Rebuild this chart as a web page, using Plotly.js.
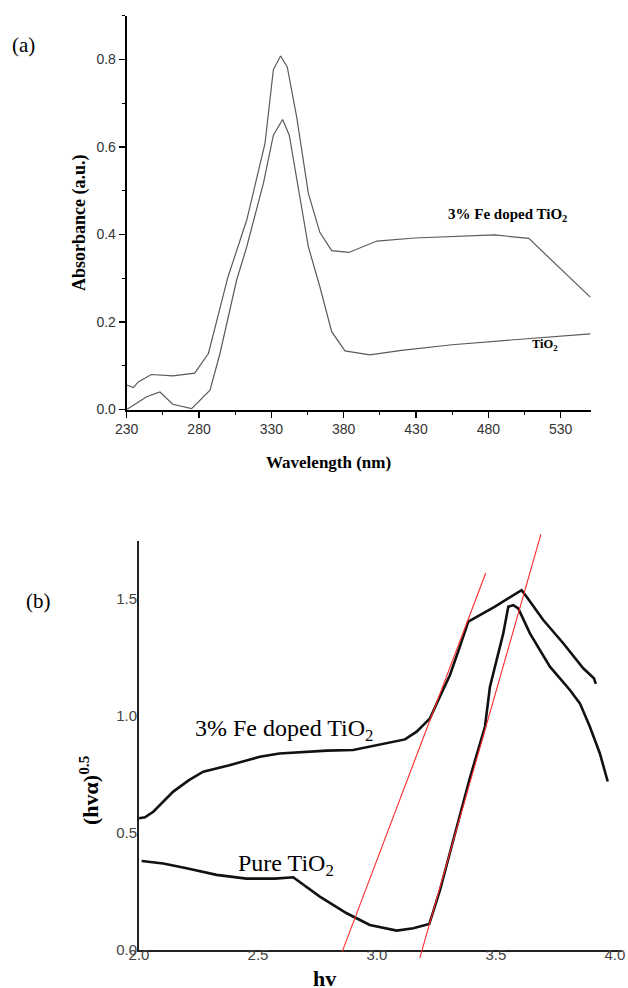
<!DOCTYPE html>
<html>
<head>
<meta charset="utf-8">
<script src="https://cdn.plot.ly/plotly-3.0.1.min.js"></script>
<style>
  html, body { margin: 0; padding: 0; background: #fff; }
  #chart { width: 628px; height: 988px; }
</style>
</head>
<body>
<div id="chart"></div>
<script>
// (a) UV-Vis absorbance spectra
const wlFe  = [230, 234.6, 238, 247, 262, 277, 286.5, 300, 313, 325.6, 331.4, 336.4, 341, 347.5, 355.6, 363.5, 371.7, 383.5, 403, 429, 484.5, 508, 550.5];
const absFe = [0.056, 0.050, 0.063, 0.080, 0.077, 0.083, 0.128, 0.303, 0.433, 0.608, 0.777, 0.808, 0.783, 0.669, 0.494, 0.405, 0.363, 0.359, 0.385, 0.392, 0.399, 0.391, 0.257];
const wlTi  = [230, 234.6, 243.8, 253, 261.8, 274.9, 287.6, 294.5, 306, 313, 324.5, 331.4, 337.8, 342.4, 348.7, 355.6, 363.6, 371.7, 380.9, 398, 420, 455, 500, 550.5];
const absTi = [0.0, 0.010, 0.029, 0.040, 0.012, 0.002, 0.044, 0.128, 0.296, 0.372, 0.517, 0.627, 0.663, 0.627, 0.501, 0.372, 0.280, 0.178, 0.134, 0.125, 0.135, 0.148, 0.160, 0.173];

// (b) Tauc plot, (h·v·α)^0.5 against photon energy
const hvFe = [2.0, 2.025, 2.06, 2.095, 2.144, 2.21, 2.27, 2.38, 2.508, 2.59, 2.69, 2.79, 2.90, 2.97, 3.04, 3.118, 3.167, 3.223, 3.265, 3.307, 3.346, 3.384, 3.496, 3.608, 3.629, 3.699, 3.783, 3.867, 3.912, 3.92];
const tauFe = [0.563, 0.567, 0.591, 0.627, 0.677, 0.726, 0.762, 0.79, 0.826, 0.84, 0.847, 0.852, 0.855, 0.869, 0.883, 0.90, 0.933, 0.99, 1.083, 1.175, 1.289, 1.403, 1.467, 1.538, 1.51, 1.41, 1.311, 1.204, 1.161, 1.137];
const hvTi = [2.011, 2.102, 2.20, 2.326, 2.452, 2.571, 2.648, 2.76, 2.873, 2.97, 3.083, 3.153, 3.22, 3.265, 3.321, 3.39, 3.454, 3.475, 3.503, 3.531, 3.552, 3.573, 3.594, 3.643, 3.727, 3.811, 3.853, 3.895, 3.937, 3.97];
const tauTi = [0.380, 0.370, 0.349, 0.321, 0.305, 0.305, 0.311, 0.228, 0.157, 0.107, 0.083, 0.093, 0.111, 0.256, 0.470, 0.733, 0.954, 1.125, 1.239, 1.353, 1.467, 1.474, 1.46, 1.353, 1.211, 1.111, 1.054, 0.954, 0.84, 0.72];

// Band-edge tangents (end points)
const tangentFeX = [2.854, 3.457];
const tangentFeY = [-0.007, 1.61];
const tangentTiX = [3.18, 3.689];
const tangentTiY = [-0.035, 1.776];

// Tick labels
const ticksA_x = [230, 280, 330, 380, 430, 480, 530];
const ticksA_y = [0.0, 0.2, 0.4, 0.6, 0.8];
const ticksB_x = [2.0, 2.5, 3.0, 3.5, 4.0];
const ticksB_y = [0.0, 0.5, 1.0, 1.5];

const W = 628, H = 988;
const serif = 'Liberation Serif, Times New Roman, serif';
const sans = 'Liberation Sans, Arial, sans-serif';

// panel geometry (paper fractions)
const xDomA = [126.7 / W, 591 / W];
const yDomA = [1 - 409.5 / H, 1 - 15.75 / H];
const xDomB = [139 / W, 622 / W];
const yDomB = [1 - 950 / H, 1 - 540.5 / H];
const xRangeB = [2.0, 4.03];
const yRangeB = [0, 1.75];

// tangents live on an invisible overlay sharing panel (b)'s scale,
// padded so the red lines may run a little past the axes
const padPx = 10;
const pxPerUnitB = (yDomB[1] - yDomB[0]) * H / (yRangeB[1] - yRangeB[0]);
const yDomT = [yDomB[0] - padPx / H, yDomB[1] + padPx / H];
const yRangeT = [yRangeB[0] - padPx / pxPerUnitB, yRangeB[1] + padPx / pxPerUnitB];

const grey = '#5a5a5a';
const traces = [
  { x: wlFe, y: absFe, xaxis: 'x', yaxis: 'y', mode: 'lines', line: { color: grey, width: 1.2 }, name: '3% Fe doped TiO2' },
  { x: wlTi, y: absTi, xaxis: 'x', yaxis: 'y', mode: 'lines', line: { color: grey, width: 1.2 }, name: 'TiO2' },
  { x: hvFe, y: tauFe, xaxis: 'x2', yaxis: 'y2', mode: 'lines', line: { color: '#111', width: 2.6 }, name: '3% Fe doped TiO2' },
  { x: hvTi, y: tauTi, xaxis: 'x2', yaxis: 'y2', mode: 'lines', line: { color: '#111', width: 2.6 }, name: 'Pure TiO2' },
  { x: tangentFeX, y: tangentFeY, xaxis: 'x3', yaxis: 'y3', mode: 'lines', line: { color: '#ff2a2a', width: 1.1 }, name: 'tangent' },
  { x: tangentTiX, y: tangentTiY, xaxis: 'x3', yaxis: 'y3', mode: 'lines', line: { color: '#ff2a2a', width: 1.1 }, name: 'tangent' }
];

const tickFontA = { family: sans, size: 14, color: '#333' };
const tickFontB = { family: sans, size: 15, color: '#444' };

function ann(text, px, py, font, extra) {
  return Object.assign({ text: text, x: px / W, y: 1 - py / H, xref: 'paper', yref: 'paper',
    showarrow: false, xanchor: 'center', yanchor: 'middle', font: font }, extra || {});
}

const layout = {
  width: W, height: H,
  margin: { l: 0, r: 0, t: 0, b: 0 },
  paper_bgcolor: '#fff', plot_bgcolor: 'rgba(0,0,0,0)',
  showlegend: false,
  xaxis: {
    domain: xDomA, range: [230, 551], anchor: 'y',
    tickmode: 'array', tickvals: ticksA_x, ticktext: ticksA_x.map(String),
    ticks: 'outside', ticklen: 6, tickwidth: 1.5, tickcolor: '#000',
    minor: { dtick: 25, tick0: 230, ticks: 'outside', ticklen: 3, tickwidth: 1.2, tickcolor: '#000', showgrid: false },
    showline: true, linewidth: 2, linecolor: '#000',
    showgrid: false, zeroline: false, tickfont: tickFontA, fixedrange: true
  },
  yaxis: {
    domain: yDomA, range: [0, 0.9], anchor: 'x',
    tickmode: 'array', tickvals: ticksA_y, ticktext: ticksA_y.map(v => v.toFixed(1)),
    ticks: 'outside', ticklen: 6, tickwidth: 1.5, tickcolor: '#000',
    minor: { dtick: 0.1, tick0: 0, ticks: 'outside', ticklen: 3, tickwidth: 1.2, tickcolor: '#000', showgrid: false },
    showline: true, linewidth: 2, linecolor: '#000',
    showgrid: false, zeroline: false, tickfont: tickFontA, fixedrange: true
  },
  xaxis2: {
    domain: xDomB, range: xRangeB, anchor: 'y2',
    tickmode: 'array', tickvals: ticksB_x, ticktext: ticksB_x.map(v => v.toFixed(1)),
    ticks: '', ticklabelstandoff: -10,
    showline: true, linewidth: 2, linecolor: '#222',
    showgrid: false, zeroline: false, tickfont: tickFontB, fixedrange: true
  },
  yaxis2: {
    domain: yDomB, range: yRangeB, anchor: 'x2',
    tickmode: 'array', tickvals: ticksB_y, ticktext: ticksB_y.map(v => v.toFixed(1)),
    ticks: '', ticklabelstandoff: -3,
    showline: true, linewidth: 2, linecolor: '#222',
    showgrid: false, zeroline: false, tickfont: tickFontB, fixedrange: true
  },
  xaxis3: { domain: xDomB, range: xRangeB, anchor: 'y3', visible: false, fixedrange: true },
  yaxis3: { domain: yDomT, range: yRangeT, anchor: 'x3', visible: false, fixedrange: true },
  annotations: [
    ann('(a)', 23, 45, { family: serif, size: 21, color: '#000' }),
    ann('<b>Absorbance (a.u.)</b>', 79, 223, { family: serif, size: 18, color: '#000' }, { textangle: -90 }),
    ann('<b>Wavelength (nm)</b>', 328, 462, { family: serif, size: 17, color: '#000' }),
    ann('<b>3% Fe doped TiO<sub>2</sub></b>', 507, 215, { family: serif, size: 15, color: '#000' }),
    ann('<b>TiO<sub>2</sub></b>', 545, 345, { family: serif, size: 12.5, color: '#000' }),
    ann('(b)', 38, 601, { family: serif, size: 21, color: '#000' }),
    ann('<b>(hvα)<sup>0.5</sup></b>', 89, 790, { family: serif, size: 22, color: '#000' }, { textangle: -90 }),
    ann('<b>hv</b>', 324, 978, { family: serif, size: 22, color: '#000' }),
    ann('3% Fe doped TiO<sub>2</sub>', 193, 730, { family: serif, size: 24, color: '#000' }, { xanchor: 'left' }),
    ann('Pure TiO<sub>2</sub>', 236, 865, { family: serif, size: 24, color: '#000' }, { xanchor: 'left' })
  ]
};

Plotly.newPlot('chart', traces, layout, { staticPlot: true, displayModeBar: false });
</script>
</body>
</html>
